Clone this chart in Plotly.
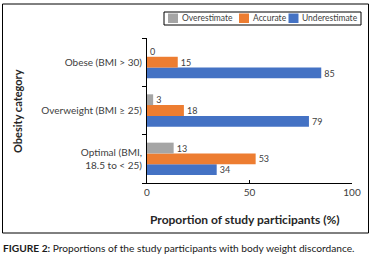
import plotly.graph_objects as go

categories = ["Optimal (BMI,<br>18.5 to < 25)", "Overweight (BMI ≥ 25)", "Obese (BMI > 30)"]
overestimate = [13, 3, 0]
accurate = [53, 18, 15]
underestimate = [34, 79, 85]
x_ticks = [0, 50, 100]
series_names = ["Overestimate", "Accurate", "Underestimate"]
series_colors = ["#A5A5A5", "#ED7D31", "#4472C4"]

FONT = "Lato"
L, R, T, B = 147, 20, 38, 72
W, H = 372, 255
pw, ph = W - L - R, H - T - B

def px_x(x):
    return (x - L) / pw

def px_y(y):
    return (H - B - y) / ph

fig = go.Figure()
series_vals = [overestimate, accurate, underestimate]
# plotly stacks grouped horizontal bars bottom-up, so add in reverse order
for name, vals, col in reversed(list(zip(series_names, series_vals, series_colors))):
    fig.add_trace(go.Bar(
        y=categories, x=vals, orientation="h", name=name,
        marker=dict(color=col, line=dict(width=0)),
        text=[str(v) for v in vals], textposition="outside",
        textfont=dict(family=FONT, size=10, color="#404040"),
        cliponaxis=False, showlegend=False,
    ))

shapes = [dict(
    type="rect", xref="paper", yref="paper",
    x0=px_x(2.5), x1=px_x(368.5), y0=px_y(233), y1=px_y(4),
    line=dict(color="black", width=1), fillcolor="rgba(0,0,0,0)", layer="below",
)]
# legend box
shapes.append(dict(
    type="rect", xref="paper", yref="paper",
    x0=px_x(164), x1=px_x(361), y0=px_y(25), y1=px_y(12),
    line=dict(color="black", width=1), fillcolor="white", layer="above",
))
annotations = []
sq_left = [168, 239, 288.5]
for name, col, xl in zip(series_names, series_colors, sq_left):
    shapes.append(dict(
        type="rect", xref="paper", yref="paper",
        x0=px_x(xl), x1=px_x(xl + 10), y0=px_y(23), y1=px_y(13.5),
        line=dict(width=0), fillcolor=col, layer="above",
    ))
    annotations.append(dict(
        text=name, xref="paper", yref="paper", x=px_x(xl + 11.5), y=px_y(18.3),
        showarrow=False, xanchor="left", yanchor="middle",
        font=dict(family=FONT, size=8.5, color="#404040"),
    ))

annotations += [
    dict(text="<b>Proportion of study participants (%)</b>", xref="paper", yref="paper",
         x=px_x(245), y=px_y(219), showarrow=False, xanchor="center", yanchor="middle",
         font=dict(family=FONT, size=12, color="#262626")),
    dict(text="<b>Obesity category</b>", xref="paper", yref="paper", textangle=-90,
         x=px_x(17), y=px_y(111), showarrow=False, xanchor="center", yanchor="middle",
         font=dict(family=FONT, size=11, color="#262626")),
    dict(text="<b>FIGURE 2:</b> Proportions of the study participants with body weight discordance.",
         xref="paper", yref="paper", x=px_x(1), y=px_y(248), showarrow=False,
         xanchor="left", yanchor="middle",
         font=dict(family=FONT, size=10.2, color="#1a1a1a")),
]

fig.update_layout(
    width=W, height=H,
    margin=dict(l=L, r=R, t=T, b=B),
    paper_bgcolor="white", plot_bgcolor="white",
    barmode="group", bargap=0.33, bargroupgap=0,
    font=dict(family=FONT, size=10, color="#404040"),
    showlegend=False,
    xaxis=dict(
        range=[0, 100], tickvals=x_ticks, ticktext=[str(v) for v in x_ticks],
        showgrid=False, zeroline=False, showline=True, linecolor="black", linewidth=1,
        ticks="inside", ticklen=3, tickcolor="black",
        tickfont=dict(family=FONT, size=10, color="#404040"),
    ),
    yaxis=dict(
        showgrid=False, zeroline=False, showline=True, linecolor="black", linewidth=1,
        ticks="outside", ticklen=4, tickcolor="black", tickson="boundaries",
        tickfont=dict(family=FONT, size=10, color="#404040"),
        ticklabelstandoff=2,
    ),
    shapes=shapes,
    annotations=annotations,
)

fig.write_html(
    "out.html",
    config={"displayModeBar": False, "staticPlot": True},
    post_script="document.body.style.margin='0';document.body.style.overflow='hidden';",
)
